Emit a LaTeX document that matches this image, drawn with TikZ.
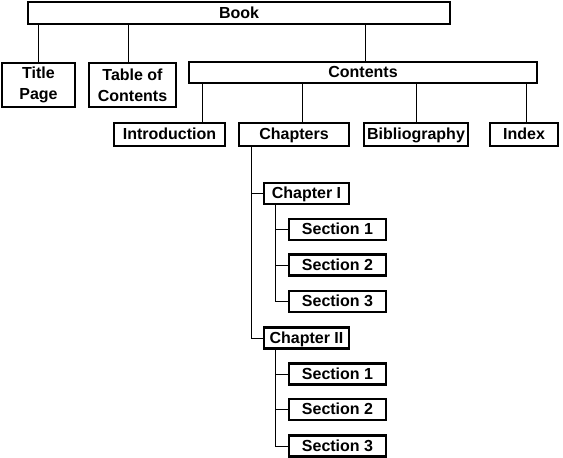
\documentclass[tikz,border=0pt]{standalone}
\usepackage{fontspec}
\setmainfont{Liberation Sans}
\usepackage{tikz}
\usetikzlibrary{positioning}

\begin{document}
\begin{tikzpicture}[x=1pt, y=-1pt,
    box/.style={draw, line width=2.4pt, inner sep=0pt, align=center,
        font=\bfseries\fontsize{16}{21}\selectfont},
    onebox/.style={box, text height=11.5pt, text depth=1.5pt},
    link/.style={draw, line width=1pt}]
    \useasboundingbox (0,0) rectangle (563,458);
    % Top level
    \node[onebox, minimum width=422, minimum height=22] (book) at (239,13) {Book};
    \node[box, minimum width=73, minimum height=44] (title) at (38.5,85) {Title\\Page};
    \node[box, minimum width=87, minimum height=44] (toc) at (132.5,85) {Table of\\Contents};
    \node[onebox, minimum width=348, minimum height=21] (contents) at (363,72.5) {Contents};
    % Contents parts
    \node[onebox, minimum width=111, minimum height=23] (intro) at (169.5,134.5) {Introduction};
    \node[onebox, minimum width=110, minimum height=23] (chapters) at (294,134.5) {Chapters};
    \node[onebox, minimum width=104, minimum height=23] (biblio) at (416,134.5) {Bibliography};
    \node[onebox, minimum width=68, minimum height=23] (index) at (524,134.5) {Index};
    % Chapters
    \node[onebox, minimum width=85, minimum height=21] (chapI) at (306.5,193.5) {Chapter I};
    \node[onebox, minimum width=97, minimum height=21] (secIa) at (337.5,229.5) {Section 1};
    \node[onebox, minimum width=97, minimum height=21] (secIb) at (337.5,265) {Section 2};
    \node[onebox, minimum width=97, minimum height=21] (secIc) at (337.5,301.5) {Section 3};
    \node[onebox, minimum width=85, minimum height=21] (chapII) at (306.5,338) {Chapter II};
    \node[onebox, minimum width=97, minimum height=21] (secIIa) at (337.5,374) {Section 1};
    \node[onebox, minimum width=97, minimum height=21] (secIIb) at (337.5,409.5) {Section 2};
    \node[onebox, minimum width=97, minimum height=21] (secIIc) at (337.5,446) {Section 3};
    % Links from Book
    \draw[link] (title.north) -- (title.north |- book.south);
    \draw[link] ([xshift=-4.5pt]toc.north) -- ([xshift=-4.5pt]toc.north |- book.south);
    \draw[link] ([xshift=2pt]contents.north) -- ([xshift=2pt]contents.north |- book.south);
    % Links from Contents
    \draw[link] ([xshift=32.5pt]intro.north) -- ([xshift=32.5pt]intro.north |- contents.south);
    \draw[link] ([xshift=8pt]chapters.north) -- ([xshift=8pt]chapters.north |- contents.south);
    \draw[link] (biblio.north) -- (biblio.north |- contents.south);
    \draw[link] ([xshift=2pt]index.north) -- ([xshift=2pt]index.north |- contents.south);
    % Links from Chapters
    \draw[link] ([xshift=14pt]chapters.south west) |- (chapI.west);
    \draw[link] ([xshift=14pt]chapters.south west) |- (chapII.west);
    % Sections
    \draw[link] ([xshift=13pt]chapI.south west) |- (secIa.west);
    \draw[link] ([xshift=13pt]chapI.south west) |- (secIb.west);
    \draw[link] ([xshift=13pt]chapI.south west) |- (secIc.west);
    \draw[link] ([xshift=13pt]chapII.south west) |- (secIIa.west);
    \draw[link] ([xshift=13pt]chapII.south west) |- (secIIb.west);
    \draw[link] ([xshift=13pt]chapII.south west) |- (secIIc.west);
\end{tikzpicture}
\end{document}
